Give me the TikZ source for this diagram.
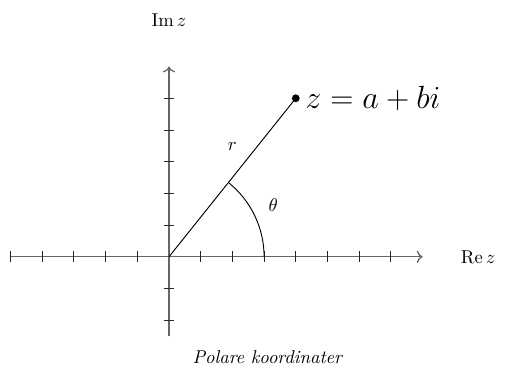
\documentclass[tikz,border=0pt]{standalone}
\usepackage{tikz}
\usetikzlibrary{positioning,arrows.meta,calc}
\tikzset{
  axis/.style={->,line width=0.7pt,draw=black!60},
  tick/.style={line width=0.5pt,draw=black!85},
  ln/.style={line width=0.5pt},
  lbl/.style={inner sep=1.5pt},
}

\begin{document}
\begin{tikzpicture}[x=0.6cm,y=0.6cm]
\useasboundingbox (-5.33,-3.69) rectangle (10.63,8.10);

% Axes
\coordinate (O) at (0,0);
\coordinate (xl) at (-5,0);
\coordinate (xr) at (8,0);
\coordinate (yb) at (0,-2.5);
\coordinate (yt) at (0,6);
\draw[axis] (xl) -- (xr);
\draw[axis] (yb) -- (yt);

% Ticks
\foreach \x in {-5,-4,-3,-2,-1,1,2,3,4,5,6,7}
  \draw[tick] (\x,0.17) -- (\x,-0.17);
\foreach \y in {-2,-1,1,2,3,4,5}
  \draw[tick] (-0.17,\y) -- (0.17,\y);

% Axis labels
\node[lbl] (re) at (9.75,0) {$\mathrm{Re}\, z$};
\node[lbl] (im) at (0,7.45) {$\mathrm{Im}\, z$};

% The point z and the radius
\coordinate (z) at (4,5);
\fill (z) circle (2.1pt);
\node[lbl,right=3.5pt of z,font=\fontsize{16.2}{19}\selectfont] (zl) {$z = a + bi$};
\draw[ln] (O) -- (z);
\node[lbl] (r) at (2,3.47) {$r$};

% Angle
\draw[ln] (3,0) arc[start angle=0,end angle={atan2(5,4)},radius=1.8cm];
\node[lbl] (th) at (3.29,1.62) {$\theta$};

% Caption
\node[lbl] (cap) at (3.12,-3.15) {\textit{Polare koordinater}};

\end{tikzpicture}
\end{document}
